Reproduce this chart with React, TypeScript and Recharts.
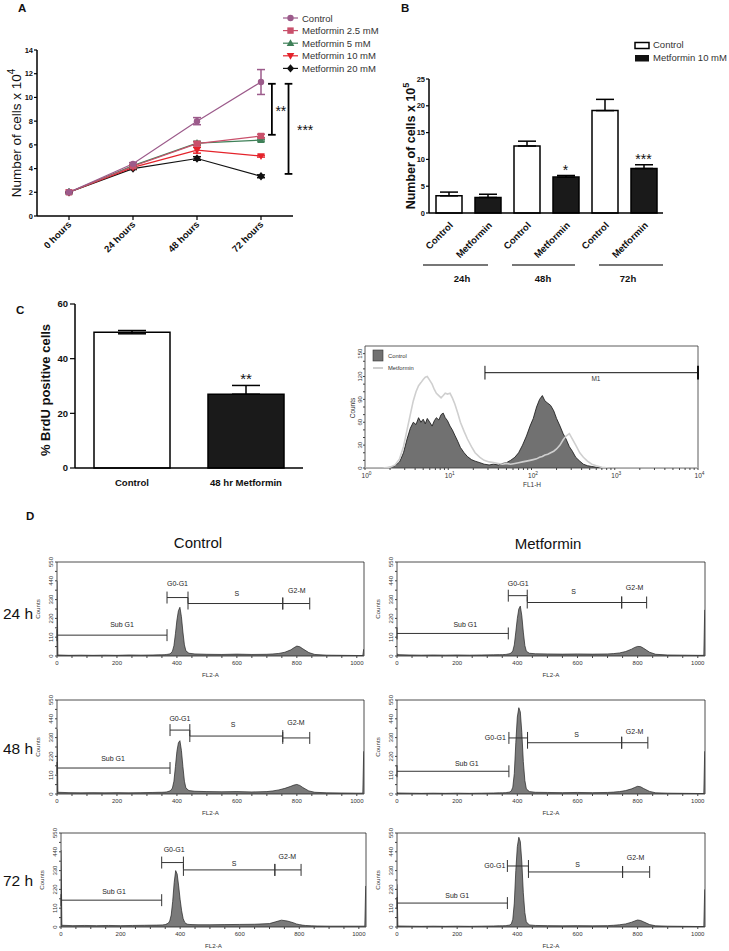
import React from 'react';
import {
  LineChart, Line, BarChart, Bar, ComposedChart, Area, XAxis, YAxis, ErrorBar, Cell,
  ReferenceLine, ReferenceDot, ReferenceArea,
} from 'recharts';

const FONT = "'Liberation Sans', Arial, Helvetica, sans-serif";

/* ---------- A: cell counts over time ---------- */
const A_TIMES = ['0 hours', '24 hours', '48 hours', '72 hours'];
const A_X_TICKS = [0, 1, 2, 3];
const A_Y_TICKS = [0, 2, 4, 6, 8, 10, 12, 14];
const A_NAMES = ['Control', 'Metformin 2.5 mM', 'Metformin 5 mM', 'Metformin 10 mM', 'Metformin 20 mM'];
const A_CONTROL = [2.0, 4.4, 8.0, 11.3];
const A_CONTROL_ERR = [0.05, 0.1, 0.3, 1.05];
const A_MET25 = [2.0, 4.2, 6.1, 6.75];
const A_MET25_ERR = [0.05, 0.1, 0.15, 0.15];
const A_MET5 = [2.0, 4.25, 6.15, 6.4];
const A_MET5_ERR = [0.05, 0.1, 0.15, 0.08];
const A_MET10 = [2.0, 4.1, 5.55, 5.05];
const A_MET10_ERR = [0.05, 0.1, 0.25, 0.08];
const A_MET20 = [2.0, 4.0, 4.85, 3.35];
const A_MET20_ERR = [0.05, 0.08, 0.15, 0.12];
// significance brackets: x position, span, star label position
const A_SIG = [
  { label: '**', x: 3.17, y1: 6.85, y2: 11.15, tx: 3.31, ty: 8.43 },
  { label: '***', x: 3.43, y1: 3.55, y2: 11.15, tx: 3.69, ty: 6.83 },
];

const A_VALUES = [A_CONTROL, A_MET25, A_MET5, A_MET10, A_MET20];
const A_ERRS = [A_CONTROL_ERR, A_MET25_ERR, A_MET5_ERR, A_MET10_ERR, A_MET20_ERR];
const A_COLORS = ['#9c5b8b', '#c9506b', '#3f8058', '#e4232b', '#111111'];
const A_MARKERS = ['circle', 'square', 'up', 'down', 'diamond'];

/* ---------- B: cell counts, control vs 10 mM ---------- */
const B_IDS = ['c24', 'm24', 'c48', 'm48', 'c72', 'm72'];
const B_LABELS = ['Control', 'Metformin', 'Control', 'Metformin', 'Control', 'Metformin'];
const B_VALUES = [3.2, 2.9, 12.5, 6.7, 19.1, 8.3];
const B_ERR = [0.7, 0.6, 0.9, 0.3, 2.1, 0.7];
const B_GROUPS = ['24h', '48h', '72h'];
const B_Y_TICKS = [0, 5, 10, 15, 20, 25];
const B_SIG = [
  { id: 'm48', text: '*', y: 7.1 },
  { id: 'm72', text: '***', y: 9.14 },
];

/* ---------- C: BrdU ---------- */
const C_CATS = ['Control', '48 hr Metformin'];
const C_VALUES = [49.7, 27.0];
const C_ERR = [[0.6, 0.6], [0, 3.2]];
const C_Y_TICKS = [0, 20, 40, 60];
const C_SIG = { cat: '48 hr Metformin', text: '**', y: 30.7 };

/* ---------- C: BrdU histogram (FL1-H, log) ---------- */
const HIST_FL1 = [1, 1.6, 2.0, 2.3, 2.6, 2.9, 3.2, 3.5, 3.8, 4.1,
  4.4, 4.7, 5.0, 5.3, 5.6, 6.0, 6.4, 6.8, 7.2, 7.7,
  8.2, 8.7, 9.2, 9.8, 10.5, 11.2, 12, 13, 14, 15.5,
  17, 19, 21, 24, 27, 31, 35, 40, 45, 50,
  56, 63, 70, 78, 87, 96, 105, 115, 125, 135,
  145, 157, 170, 185, 200, 220, 240, 260, 285, 310,
  340, 380, 420, 470, 530, 600, 700, 850, 1000, 2000,
  5000, 10000];
const HIST_CONTROL = [0, 0, 1, 3, 8, 20, 38, 52, 60, 57,
  66, 60, 64, 58, 65, 60, 55, 62, 66, 63,
  70, 72, 66, 62, 55, 50, 43, 35, 27, 20,
  15, 11, 9, 7, 5, 4, 5, 4, 6, 7,
  10, 14, 20, 30, 42, 55, 65, 80, 90, 95,
  88, 85, 82, 75, 65, 55, 45, 38, 28, 22,
  14, 9, 5, 3, 2, 1, 0, 0, 0, 0,
  0, 0];
const HIST_MET = [0, 0, 1, 4, 12, 28, 50, 70, 88, 100,
  108, 112, 116, 119, 120, 115, 110, 103, 98, 95,
  92, 95, 98, 97, 98, 92, 84, 72, 60, 48,
  38, 28, 20, 14, 10, 8, 7, 6, 5, 6,
  5, 6, 7, 8, 9, 10, 11, 12, 14, 15,
  17, 18, 20, 22, 25, 30, 37, 42, 45, 38,
  30, 20, 14, 9, 5, 3, 1, 0, 0, 0,
  0, 0];
const HIST_X_TICKS = [1, 2, 3, 4, 5, 6, 7, 8, 9, 10, 20, 30, 40, 50, 60, 70, 80, 90, 100,
  200, 300, 400, 500, 600, 700, 800, 900, 1000, 2000, 3000, 4000, 5000, 6000, 7000, 8000, 9000, 10000];
const HIST_Y_TICKS = [0, 10, 20, 30, 40, 50, 60, 70, 80, 90, 100, 110, 120, 130, 140, 150];
const HIST_M1 = { x1: 27.6, x2: 10000, y: 125, lx: 595, ly: 114 };

/* ---------- D: cell cycle (FL2-A) ---------- */
const FL2 = [0, 3, 40, 80, 120, 160, 200, 240, 280, 320,
  340, 350, 360, 365, 370, 375, 380, 385, 390, 395,
  400, 405, 410, 415, 420, 425, 430, 440, 460, 500,
  550, 600, 650, 700, 720, 740, 760, 780, 790, 800,
  810, 820, 840, 860, 900, 950, 1000, 1020, 1023];
const D_CTRL_24 = [440, 6, 4, 5, 4, 5, 4, 6, 5, 6,
  7, 7, 8, 9, 10, 12, 16, 28, 60, 130,
  210, 265, 285, 230, 140, 65, 30, 16, 12, 10,
  9, 11, 9, 10, 12, 15, 22, 36, 48, 58,
  54, 42, 20, 9, 5, 4, 3, 3, 40];
const D_MET_24 = [15, 8, 6, 5, 6, 5, 6, 5, 6, 7,
  8, 8, 9, 10, 12, 14, 18, 30, 65, 140,
  220, 275, 292, 235, 140, 62, 28, 16, 13, 12,
  11, 12, 11, 12, 14, 18, 26, 40, 50, 56,
  55, 45, 22, 10, 6, 5, 4, 4, 270];
const D_CTRL_48 = [380, 10, 8, 7, 8, 7, 8, 7, 8, 9,
  10, 10, 11, 12, 14, 17, 22, 35, 75, 160,
  250, 300, 312, 255, 160, 75, 35, 20, 16, 14,
  13, 14, 12, 14, 18, 24, 33, 45, 52, 56,
  50, 38, 18, 10, 7, 6, 5, 5, 250];
const D_MET_48 = [10, 6, 5, 4, 5, 4, 5, 4, 5, 6,
  7, 7, 8, 9, 10, 12, 18, 40, 120, 300,
  450, 505, 480, 360, 190, 80, 30, 14, 10, 9,
  8, 9, 8, 9, 11, 14, 20, 30, 38, 45,
  42, 32, 15, 7, 5, 4, 3, 3, 250];
const D_CTRL_72 = [450, 10, 8, 9, 8, 9, 8, 9, 10, 11,
  12, 14, 22, 35, 70, 150, 260, 330, 310, 240,
  160, 95, 50, 28, 20, 16, 15, 14, 13, 13,
  14, 15, 16, 20, 30, 40, 35, 25, 18, 14,
  11, 9, 7, 6, 5, 5, 5, 5, 240];
const D_MET_72 = [250, 6, 5, 4, 5, 4, 5, 4, 5, 6,
  7, 7, 8, 9, 10, 12, 18, 45, 140, 330,
  470, 525, 500, 380, 200, 85, 30, 12, 9, 8,
  7, 8, 7, 8, 10, 13, 18, 28, 35, 41,
  38, 30, 14, 7, 5, 4, 3, 3, 220];
const D_X_TICKS = [0, 50, 100, 150, 200, 250, 300, 350, 400, 450, 500, 550, 600, 650, 700, 750, 800, 850, 900, 950, 1000];
const D_Y_TICKS = [0, 55, 110, 165, 220, 275, 330, 385, 440, 495, 550];
const D_COLS = ['Control', 'Metformin'];
const D_ROWS = ['24 h', '48 h', '72 h'];

// gates (marker ranges) with label anchor, in FL2-A / count units
const G_CTRL_24 = [
  { label: 'Sub G1', x1: 0, x2: 367, y: 122, lx: 217, ly: 185 },
  { label: 'G0-G1', x1: 367, x2: 437, y: 342, lx: 402, ly: 423 },
  { label: 'S', x1: 437, x2: 753, y: 307, lx: 600, ly: 365 },
  { label: 'G2-M', x1: 753, x2: 843, y: 307, lx: 800, ly: 385 },
];
const G_MET_24 = [
  { label: 'Sub G1', x1: 0, x2: 370, y: 132, lx: 227, ly: 185 },
  { label: 'G0-G1', x1: 370, x2: 433, y: 353, lx: 403, ly: 423 },
  { label: 'S', x1: 433, x2: 747, y: 313, lx: 587, ly: 375 },
  { label: 'G2-M', x1: 747, x2: 830, y: 313, lx: 790, ly: 400 },
];
const G_CTRL_48 = [
  { label: 'Sub G1', x1: 0, x2: 377, y: 152, lx: 187, ly: 210 },
  { label: 'G0-G1', x1: 377, x2: 443, y: 374, lx: 410, ly: 439 },
  { label: 'S', x1: 443, x2: 753, y: 339, lx: 587, ly: 404 },
  { label: 'G2-M', x1: 753, x2: 843, y: 328, lx: 797, ly: 421 },
];
const G_MET_48 = [
  { label: 'Sub G1', x1: 0, x2: 372, y: 133, lx: 232, ly: 177 },
  { label: 'G0-G1', x1: 372, x2: 434, y: 328, lx: 362, ly: 328, end: true },
  { label: 'S', x1: 434, x2: 747, y: 300, lx: 597, ly: 350 },
  { label: 'G2-M', x1: 747, x2: 834, y: 300, lx: 790, ly: 364 },
];
const G_CTRL_72 = [
  { label: 'Sub G1', x1: 0, x2: 338, y: 157, lx: 178, ly: 206 },
  { label: 'G0-G1', x1: 338, x2: 411, y: 377, lx: 380, ly: 452 },
  { label: 'S', x1: 411, x2: 718, y: 334, lx: 581, ly: 373 },
  { label: 'G2-M', x1: 718, x2: 806, y: 334, lx: 760, ly: 412 },
];
const G_MET_72 = [
  { label: 'Sub G1', x1: 0, x2: 367, y: 140, lx: 200, ly: 187 },
  { label: 'G0-G1', x1: 367, x2: 437, y: 357, lx: 360, ly: 357, end: true },
  { label: 'S', x1: 437, x2: 750, y: 322, lx: 600, ly: 363 },
  { label: 'G2-M', x1: 750, x2: 840, y: 322, lx: 793, ly: 404 },
];
const D_COUNTS = [D_CTRL_24, D_MET_24, D_CTRL_48, D_MET_48, D_CTRL_72, D_MET_72];
const D_GATES = [G_CTRL_24, G_MET_24, G_CTRL_48, G_MET_48, G_CTRL_72, G_MET_72];

// plot boxes of the six cycle histograms
const D_LAYOUT = [
  { left: 57, right: 364, top: 562, bottom: 656 },
  { left: 397, right: 705, top: 562, bottom: 656 },
  { left: 57, right: 364, top: 700, bottom: 794 },
  { left: 397, right: 705, top: 700, bottom: 794 },
  { left: 61, right: 366, top: 833, bottom: 927 },
  { left: 397, right: 705, top: 833, bottom: 927 },
];

const AX = { stroke: '#000', strokeWidth: 1.5 };
const TL = { stroke: '#000', strokeWidth: 1.2 };
const SMALL_TICK = { fontSize: 7.5, fontWeight: 'bold', fill: '#111' };

function Marker({ cx, cy, kind, color }: any) {
  const s = 3.2;
  if (kind === 'square') return <rect x={cx - s} y={cy - s} width={2 * s} height={2 * s} fill={color} />;
  if (kind === 'up')
    return <polygon points={`${cx},${cy - s - 0.8} ${cx + s + 0.6},${cy + s - 0.4} ${cx - s - 0.6},${cy + s - 0.4}`} fill={color} />;
  if (kind === 'down')
    return <polygon points={`${cx},${cy + s + 0.8} ${cx + s + 0.6},${cy - s + 0.4} ${cx - s - 0.6},${cy - s + 0.4}`} fill={color} />;
  if (kind === 'diamond')
    return <polygon points={`${cx},${cy - s - 1} ${cx + s + 0.4},${cy} ${cx},${cy + s + 1} ${cx - s - 0.4},${cy}`} fill={color} />;
  return <circle cx={cx} cy={cy} r={s} fill={color} />;
}

const ATimeTick = (p: any) => {
  const x = p.x + 3;
  const y = p.y + 3;
  return (
    <text x={x} y={y} transform={`rotate(-45 ${x} ${y})`} textAnchor="end" fontSize={9.5} fontWeight="bold" fill="#111">
      {A_TIMES[p.payload.value]}
    </text>
  );
};

const BTick = (p: any) => {
  const i = B_IDS.indexOf(p.payload.value);
  const x = p.x + 5;
  const y = p.y + 5;
  return (
    <text x={x} y={y} transform={`rotate(-45 ${x} ${y})`} textAnchor="end" fontSize={9.5} fontWeight="bold" fill="#111">
      {B_LABELS[i]}
    </text>
  );
};

const DecadeTick = (p: any) => {
  const v = p.payload.value;
  const lg = Math.log10(v);
  const e = Math.round(lg);
  if (Math.abs(lg - e) > 1e-6) return <g />;
  return (
    <text x={p.x + 1.5} y={p.y + 6} textAnchor="middle" fontSize={6.5} fill="#333">
      10<tspan dy={-3} fontSize={4.8}>{e}</tspan>
    </text>
  );
};

const RotCountTick = (step: number) => (p: any) =>
  p.payload.value % step === 0 ? (
    <text x={p.x} y={p.y} transform={`rotate(-90 ${p.x} ${p.y})`} textAnchor="middle" fontSize={6} fill="#333">
      {p.payload.value}
    </text>
  ) : <g />;

const FlTick = (p: any) =>
  p.payload.value % 200 === 0 ? (
    <text x={p.x} y={p.y + 5} textAnchor="middle" fontSize={6} fill="#333">{p.payload.value}</text>
  ) : <g />;

function starDot(text: string, size: number) {
  return (p: any) => (
    <text x={p.cx} y={p.cy} textAnchor="middle" fontSize={size} fill="#111">{text}</text>
  );
}

function PanelA() {
  const data = A_TIMES.map((t, i) => {
    const row: any = { idx: A_X_TICKS[i] };
    A_VALUES.forEach((vals, k) => {
      row[`v${k}`] = vals[i];
      row[`e${k}`] = A_ERRS[k][i];
    });
    return row;
  });
  return (
    <div style={{ position: 'absolute', left: 0, top: 0 }}>
      <LineChart width={330} height={300} data={data} margin={{ top: 50, right: 37, bottom: 0, left: 0 }}>
        <XAxis type="number" dataKey="idx" domain={[-0.5, 3.5]} ticks={A_X_TICKS} interval={0} height={84}
          axisLine={AX} tickLine={TL} tickSize={4} tick={ATimeTick} />
        <YAxis type="number" domain={[0, 14]} ticks={A_Y_TICKS} interval={0} width={37}
          axisLine={AX} tickLine={TL} tickSize={3} tickMargin={1} tick={SMALL_TICK} />
        {[4, 3, 2, 1, 0].map((k) => (
          <Line key={k} type="linear" dataKey={`v${k}`} stroke={A_COLORS[k]} strokeWidth={1.2} isAnimationActive={false}
            dot={(p: any) => <Marker key={`m${k}-${p.index}`} cx={p.cx} cy={p.cy} kind={A_MARKERS[k]} color={A_COLORS[k]} />}>
            <ErrorBar dataKey={`e${k}`} direction="y" width={4} stroke={A_COLORS[k]} strokeWidth={1.5} />
          </Line>
        ))}
        {A_SIG.map((s, i) => (
          <React.Fragment key={i}>
            <ReferenceLine segment={[{ x: s.x, y: s.y1 }, { x: s.x, y: s.y2 }]} stroke="#000" strokeWidth={1.8} ifOverflow="visible" />
            <ReferenceLine segment={[{ x: s.x - 0.06, y: s.y1 }, { x: s.x + 0.06, y: s.y1 }]} stroke="#000" strokeWidth={1.8} ifOverflow="visible" />
            <ReferenceLine segment={[{ x: s.x - 0.06, y: s.y2 }, { x: s.x + 0.06, y: s.y2 }]} stroke="#000" strokeWidth={1.8} ifOverflow="visible" />
            <ReferenceDot x={s.tx} y={s.ty} r={0} ifOverflow="visible" shape={starDot(s.label, 14)} />
          </React.Fragment>
        ))}
      </LineChart>
    </div>
  );
}

function PanelB() {
  const data = B_IDS.map((id, i) => ({ id, v: B_VALUES[i], err: [0, B_ERR[i]] }));
  return (
    <div style={{ position: 'absolute', left: 380, top: 0 }}>
      <BarChart width={290} height={300} data={data} margin={{ top: 79, right: 7, bottom: 0, left: 0 }}>
        <XAxis dataKey="id" height={87} axisLine={AX} tickLine={false} tick={BTick} interval={0} />
        <YAxis domain={[0, 25]} ticks={B_Y_TICKS} interval={0} width={49} axisLine={AX} tickLine={TL} tickSize={3} tickMargin={1}
          tick={SMALL_TICK} />
        <Bar dataKey="v" barSize={26} stroke="#000" strokeWidth={1.5} isAnimationActive={false}>
          {data.map((d, i) => <Cell key={i} fill={i % 2 === 0 ? '#ffffff' : '#1a1a1a'} />)}
          <ErrorBar dataKey="err" direction="y" width={9} stroke="#000" strokeWidth={1.5} />
        </Bar>
        {B_SIG.map((s) => (
          <ReferenceDot key={s.id} x={s.id} y={s.y} r={0} ifOverflow="visible" shape={starDot(s.text, 14)} />
        ))}
      </BarChart>
    </div>
  );
}

function PanelC() {
  const data = C_CATS.map((cat, i) => ({ cat, v: C_VALUES[i], err: C_ERR[i] }));
  return (
    <div style={{ position: 'absolute', left: 0, top: 290 }}>
      <BarChart width={310} height={200} data={data} margin={{ top: 14, right: 7, bottom: 0, left: 0 }}>
        <XAxis dataKey="cat" height={22} axisLine={AX} tickLine={false} tickMargin={5} interval={0}
          tick={{ fontSize: 9.6, fontWeight: 'bold', fill: '#111' }} />
        <YAxis domain={[0, 60]} ticks={C_Y_TICKS} interval={0} width={75} axisLine={AX} tickLine={TL} tickSize={5}
          tick={{ fontSize: 9.5, fontWeight: 'bold', fill: '#111' }} />
        <Bar dataKey="v" barSize={76} stroke="#000" strokeWidth={1.5} isAnimationActive={false}>
          {data.map((d, i) => <Cell key={i} fill={i === 0 ? '#ffffff' : '#1a1a1a'} />)}
          <ErrorBar dataKey="err" direction="y" width={14} stroke="#000" strokeWidth={1.5} />
        </Bar>
        <ReferenceDot x={C_SIG.cat} y={C_SIG.y} r={0} ifOverflow="visible" shape={starDot(C_SIG.text, 15)} />
      </BarChart>
    </div>
  );
}

function PanelCHist() {
  const data = HIST_FL1.map((x, i) => ({ x, ctrl: HIST_CONTROL[i], met: HIST_MET[i] }));
  const m = HIST_M1;
  return (
    <div style={{ position: 'absolute', left: 330, top: 330 }}>
      <ComposedChart width={380} height={165} data={data} margin={{ top: 16, right: 12, bottom: 0, left: 0 }}>
        <XAxis type="number" dataKey="x" scale="log" domain={[1, 10000]} allowDataOverflow ticks={HIST_X_TICKS} interval={0}
          height={27} axisLine={false} tickLine={{ stroke: '#444' }} tickSize={2} tick={DecadeTick} />
        <YAxis type="number" domain={[0, 160]} allowDataOverflow ticks={HIST_Y_TICKS} interval={0} width={35}
          axisLine={false} tickLine={{ stroke: '#444' }} tickSize={2} tickMargin={1} tick={RotCountTick(30)} />
        <Area type="linear" dataKey="ctrl" fill="#717171" fillOpacity={1} stroke="#111" strokeWidth={0.8} isAnimationActive={false} />
        <Line type="linear" dataKey="met" stroke="#cfcfcf" strokeWidth={1.6} dot={false} isAnimationActive={false} />
        <ReferenceArea x1={1} x2={10000} y1={0} y2={160} fill="none" fillOpacity={0} stroke="#333" strokeWidth={0.8} ifOverflow="visible" />
        <ReferenceLine segment={[{ x: m.x1, y: m.y }, { x: m.x2, y: m.y }]} stroke="#111" strokeWidth={1} ifOverflow="visible" />
        <ReferenceLine segment={[{ x: m.x1, y: m.y - 9 }, { x: m.x1, y: m.y + 9 }]} stroke="#111" strokeWidth={1} ifOverflow="visible" />
        <ReferenceLine segment={[{ x: m.x2, y: m.y - 9 }, { x: m.x2, y: m.y + 9 }]} stroke="#111" strokeWidth={2} ifOverflow="visible" />
        <ReferenceDot x={m.lx} y={m.ly} r={0} ifOverflow="visible"
          shape={(p: any) => <text x={p.cx} y={p.cy} textAnchor="middle" fontSize={6.5} fill="#333">M1</text>} />
      </ComposedChart>
    </div>
  );
}

function CyclePanel({ box, counts, gates }: any) {
  const data = FL2.map((x, i) => ({ x, n: counts[i] }));
  const yw = 29;
  const xh = 22;
  const mt = 6;
  const mr = 4;
  const width = box.right - box.left + yw + mr;
  const height = box.bottom - box.top + mt + xh;
  return (
    <div style={{ position: 'absolute', left: box.left - yw, top: box.top - mt }}>
      <ComposedChart width={width} height={height} data={data} margin={{ top: mt, right: mr, bottom: 0, left: 0 }}>
        <XAxis type="number" dataKey="x" domain={[0, 1024]} allowDataOverflow ticks={D_X_TICKS} interval={0} height={xh}
          axisLine={false} tickLine={{ stroke: '#444' }} tickSize={2} tick={FlTick} />
        <YAxis type="number" domain={[0, 550]} allowDataOverflow ticks={D_Y_TICKS} interval={0} width={yw}
          axisLine={false} tickLine={{ stroke: '#444' }} tickSize={2} tickMargin={2} tick={RotCountTick(110)} />
        <Area type="linear" dataKey="n" fill="#7a7a7a" fillOpacity={1} stroke="#222" strokeWidth={0.7} isAnimationActive={false} />
        <ReferenceArea x1={0} x2={1024} y1={0} y2={550} fill="none" fillOpacity={0} stroke="#222" strokeWidth={0.8} ifOverflow="visible" />
        {gates.map((g: any, i: number) => (
          <React.Fragment key={i}>
            <ReferenceLine segment={[{ x: g.x1, y: g.y }, { x: g.x2, y: g.y }]} stroke="#333" strokeWidth={1} ifOverflow="visible" />
            <ReferenceLine segment={[{ x: g.x1, y: g.y - 35 }, { x: g.x1, y: g.y + 35 }]} stroke="#333" strokeWidth={1} ifOverflow="visible" />
            <ReferenceLine segment={[{ x: g.x2, y: g.y - 35 }, { x: g.x2, y: g.y + 35 }]} stroke="#333" strokeWidth={1} ifOverflow="visible" />
            <ReferenceDot x={g.lx} y={g.ly} r={0} ifOverflow="visible"
              shape={(p: any) => (
                <text x={p.cx} y={p.cy + 2.5} textAnchor={g.end ? 'end' : 'middle'} fontSize={7} fill="#222">{g.label}</text>
              )} />
          </React.Fragment>
        ))}
      </ComposedChart>
    </div>
  );
}

function Overlay() {
  const legendY = [18, 30.6, 43.2, 55.8, 68.4];
  return (
    <svg width={729} height={951} style={{ position: 'absolute', left: 0, top: 0, pointerEvents: 'none' }}>
      <g fontWeight="bold" fontSize={11.5} fill="#111">
        <text x={18} y={12}>A</text>
        <text x={401} y={12}>B</text>
        <text x={16} y={314}>C</text>
        <text x={26} y={520}>D</text>
      </g>

      {/* A axis title + legend */}
      <text x={21} y={133} transform="rotate(-90 21 133)" textAnchor="middle" fontSize={13.5} fill="#111">
        Number of cells x 10<tspan dy={-6} fontSize={10}>4</tspan>
      </text>
      {A_NAMES.map((n, k) => (
        <g key={n}>
          <line x1={283} x2={298} y1={legendY[k]} y2={legendY[k]} stroke={A_COLORS[k]} strokeWidth={1.2} />
          <Marker cx={290.5} cy={legendY[k]} kind={A_MARKERS[k]} color={A_COLORS[k]} />
          <text x={302} y={legendY[k] + 3.5} fontSize={9.5} fill="#333">{n}</text>
        </g>
      ))}

      {/* B axis title, legend, time groups */}
      <text x={415} y={146} transform="rotate(-90 415 146)" textAnchor="middle" fontSize={12.5} fontWeight="bold" fill="#111">
        Number of cells x 10<tspan dy={-6} fontSize={9}>5</tspan>
      </text>
      <rect x={635} y={42.5} width={14} height={6} fill="#fff" stroke="#000" strokeWidth={1.5} />
      <text x={653} y={48} fontSize={9.5} fill="#333">Control</text>
      <rect x={635} y={55} width={14} height={6.5} fill="#111" />
      <text x={653} y={61} fontSize={9.5} fill="#333">Metformin 10 mM</text>
      {[[423, 488, 462], [512, 575, 543], [599, 663, 628]].map(([a, b, c], i) => (
        <g key={i}>
          <line x1={a} x2={b} y1={265} y2={265} stroke="#777" strokeWidth={1.8} />
          <text x={c} y={281.5} textAnchor="middle" fontSize={9.5} fontWeight="bold" fill="#111">{B_GROUPS[i]}</text>
        </g>
      ))}

      {/* C axis title */}
      <text x={50} y={390} transform="rotate(-90 50 390)" textAnchor="middle" fontSize={13} fontWeight="bold" fill="#111">
        % BrdU positive cells
      </text>

      {/* C histogram legend and axis titles */}
      <rect x={373} y={350} width={10} height={11} fill="#717171" stroke="#333" strokeWidth={0.6} />
      <text x={388} y={358} fontSize={5.8} fill="#333">Control</text>
      <line x1={373} x2={383} y1={368} y2={368} stroke="#cfcfcf" strokeWidth={2} />
      <text x={388} y={370} fontSize={5.8} fill="#333">Metformin</text>
      <text x={355} y={408} transform="rotate(-90 355 408)" textAnchor="middle" fontSize={6.5} fill="#333">Counts</text>
      <text x={532} y={487} textAnchor="middle" fontSize={6.5} fill="#333">FL1-H</text>

      {/* D titles */}
      <text x={198} y={548} textAnchor="middle" fontSize={15} fill="#111">{D_COLS[0]}</text>
      <text x={548} y={549} textAnchor="middle" fontSize={15} fill="#111">{D_COLS[1]}</text>
      <text x={3} y={619} fontSize={15.5} fill="#111">{D_ROWS[0]}</text>
      <text x={3} y={754} fontSize={15.5} fill="#111">{D_ROWS[1]}</text>
      <text x={3} y={886} fontSize={15.5} fill="#111">{D_ROWS[2]}</text>
      {D_LAYOUT.map((b, i) => {
        const cy = (b.top + b.bottom) / 2;
        const cx = b.left - 17;
        return (
          <g key={i} fontSize={6.2} fill="#333">
            <text x={cx} y={cy} transform={`rotate(-90 ${cx} ${cy})`} textAnchor="middle">Counts</text>
            <text x={(b.left + b.right) / 2} y={b.bottom + 21} textAnchor="middle">FL2-A</text>
          </g>
        );
      })}
    </svg>
  );
}

export default function App() {
  return (
    <div style={{ position: 'absolute', left: 0, top: 0, width: 729, height: 951, background: '#fff', fontFamily: FONT, overflow: 'hidden' }}>
      <PanelA />
      <PanelB />
      <PanelC />
      <PanelCHist />
      {D_LAYOUT.map((box, i) => (
        <CyclePanel key={i} box={box} counts={D_COUNTS[i]} gates={D_GATES[i]} />
      ))}
      <Overlay />
    </div>
  );
}
